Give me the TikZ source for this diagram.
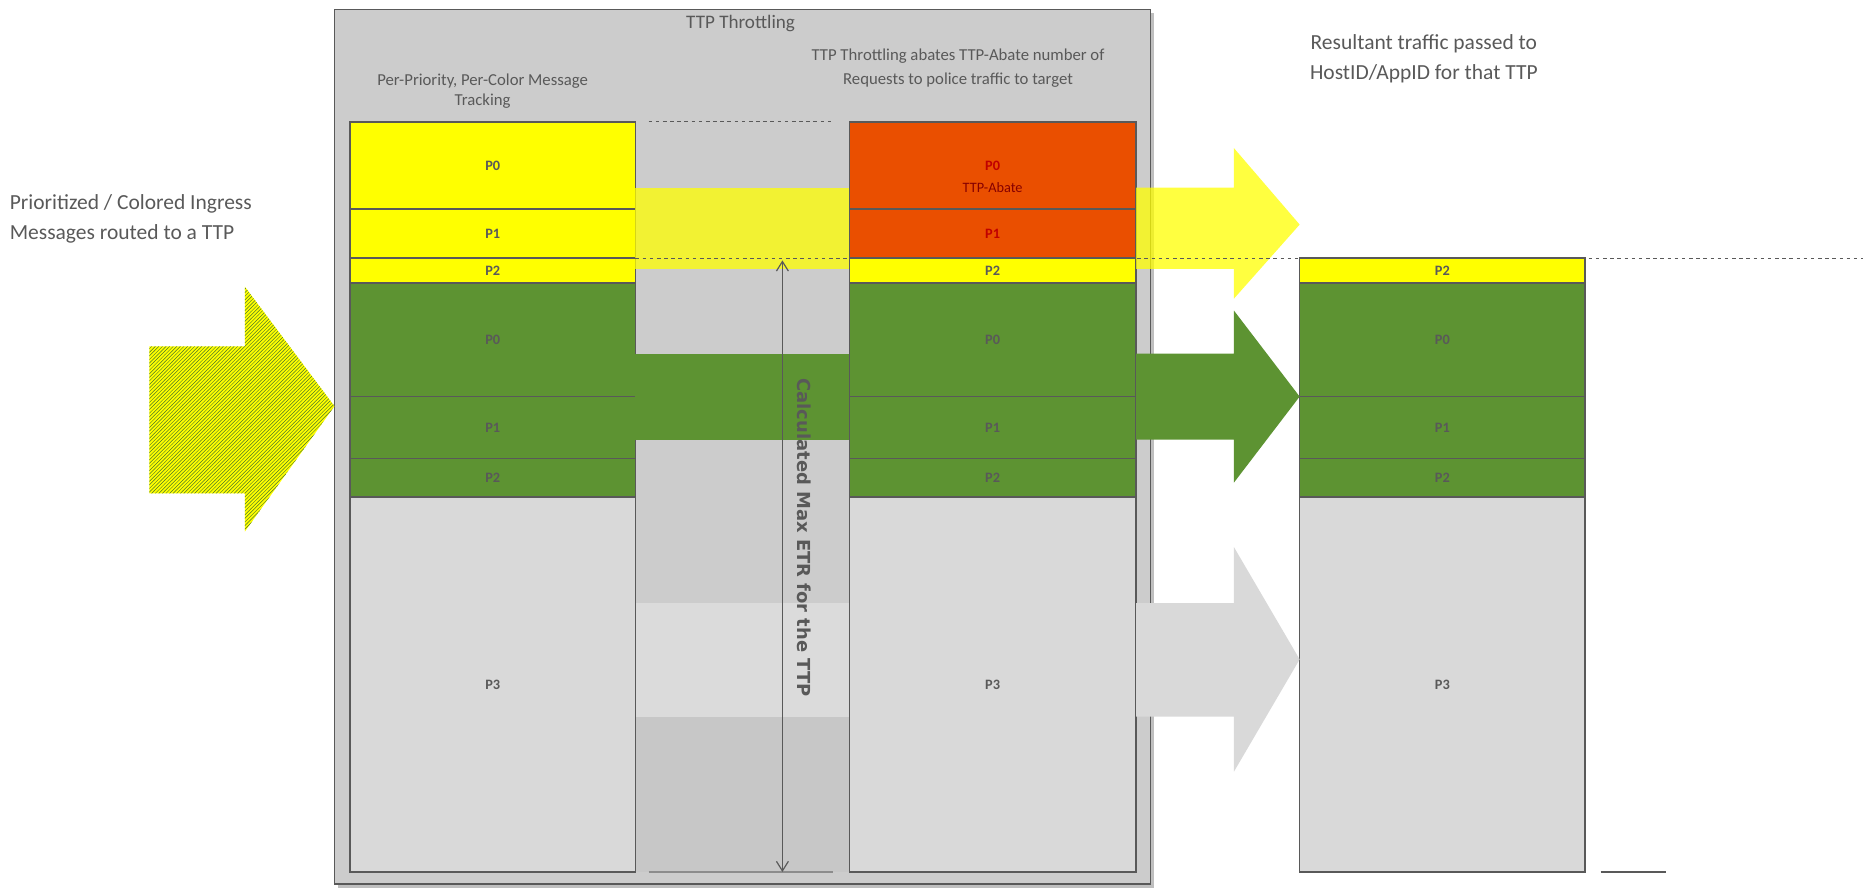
\documentclass[tikz,border=0pt]{standalone}
\usepackage{fontspec}
\setmainfont{Carlito}
\newfontfamily\dvs{DejaVu Sans}
\usetikzlibrary{patterns,arrows.meta}
\definecolor{txt}{HTML}{595959}
\definecolor{bx}{HTML}{CCCCCC}
\definecolor{lg}{HTML}{D9D9D9}
\definecolor{gr}{HTML}{5D9332}
\definecolor{yl}{HTML}{FFFF00}
\definecolor{orng}{HTML}{EA4F00}
\definecolor{rd}{HTML}{C00000}
\definecolor{edge}{HTML}{595959}
\newcommand{\mycell}[7]{\node[cell,fill=#6,minimum width={(#4-#2)*1pt},minimum height={(#5-#3)*1pt}] (#1) at ({(#2+#4)/2},{(#3+#5)/2}) {#7};}
\tikzset{cell/.style={draw=edge,line width=1.2pt,inner sep=0,outer sep=0,font=\fontsize{12}{12}\selectfont\bfseries,text=txt},
lbl/.style={text=txt,align=center,inner sep=0}}
\begin{document}
\begin{tikzpicture}[x=1pt,y=-1pt]
\useasboundingbox (0,0) rectangle (1568,750);
% outer box
\fill[black!25] (283,11) rectangle (966,743);
\node[draw=edge,fill=bx,line width=1pt,minimum width=683pt,minimum height=732pt,inner sep=0] (outer) at (621.5,374) {};
\node[lbl,font=\fontsize{16}{16}\selectfont] (title) at (620,20) {TTP Throttling};
\node[lbl,font=\fontsize{14}{17}\selectfont] (t1) at (404,76) {Per-Priority, Per-Color Message\\Tracking};
\node[lbl,font=\fontsize{14}{20}\selectfont] (t2) at (802,57) {TTP Throttling abates TTP-Abate number of\\Requests to police traffic to target};
\node[lbl,font=\fontsize{18}{25}\selectfont] (t3) at (1192,49) {Resultant traffic passed to\\HostID/AppID for that TTP};
\node[lbl,font=\fontsize{18}{25}\selectfont,anchor=west,align=left] (t4) at (8,183) {Prioritized / Colored Ingress\\Messages routed to a TTP};
% middle bands
\fill[black!14] (532,505) rectangle (711,600);
\fill[black!22] (532,600) rectangle (711,730);
\draw[edge,dashed,line width=1pt] (543,102) -- (697,102);
\draw[black!45,line width=2pt] (543,730) -- (697,730);
% column 1
\mycell{aP0}{293}{102}{532}{175}{yl}{P0}
\mycell{aP1}{293}{175}{532}{216}{yl}{P1}
\mycell{aP2}{293}{216}{532}{237}{yl}{P2}
\mycell{aG0}{293}{237}{532}{332}{gr}{P0}
\mycell{aG1}{293}{332}{532}{384}{gr}{P1}
\mycell{aG2}{293}{384}{532}{416}{gr}{P2}
\mycell{aP3}{293}{416}{532}{730}{lg}{P3}
% column 2
\mycell{bP0}{711}{102}{951}{175}{orng}{}
\node[text=rd,font=\fontsize{12}{12}\selectfont\bfseries] (bP0t) at (831,139) {P0};
\node[text=rd!70!black,font=\fontsize{12}{12}\selectfont] (abate) at (831,157) {TTP-Abate};
\mycell{bP1}{711}{175}{951}{216}{orng}{\textcolor{rd}{P1}}
\mycell{bP2}{711}{216}{951}{237}{yl}{P2}
\mycell{bG0}{711}{237}{951}{332}{gr}{P0}
\mycell{bG1}{711}{332}{951}{384}{gr}{P1}
\mycell{bG2}{711}{384}{951}{416}{gr}{P2}
\mycell{bP3}{711}{416}{951}{730}{lg}{P3}
% column 3
\mycell{cP2}{1088}{216}{1327}{237}{yl}{P2}
\mycell{cG0}{1088}{237}{1327}{332}{gr}{P0}
\mycell{cG1}{1088}{332}{1327}{384}{gr}{P1}
\mycell{cG2}{1088}{384}{1327}{416}{gr}{P2}
\mycell{cP3}{1088}{416}{1327}{730}{lg}{P3}
\draw[edge,line width=1.2pt] (1340,730) -- (1395,730);
% flows
\fill[yl,opacity=0.75] (532,157) rectangle (711,225);
\fill[yl,opacity=0.75] (951,157) -- (1033,157) -- (1033,124) -- (1088,188) -- (1033,250) -- (1033,225) -- (951,225) -- cycle;
\fill[gr] (532,296) rectangle (711,368);
\fill[gr] (951,296) -- (1033,296) -- (1033,260) -- (1088,332) -- (1033,404) -- (1033,368) -- (951,368) -- cycle;
\fill[lg] (951,505) -- (1033,505) -- (1033,458) -- (1088,552) -- (1033,646) -- (1033,600) -- (951,600) -- cycle;
% ingress arrow
\fill[yl] (125,290) -- (205,290) -- (205,240) -- (280,340) -- (205,445) -- (205,413) -- (125,413) -- cycle;
\fill[pattern=north east lines,pattern color=gr!80!black] (125,290) -- (205,290) -- (205,240) -- (280,340) -- (205,445) -- (205,413) -- (125,413) -- cycle;
% reference line
\coordinate (r1) at (532,216);
\coordinate (r2) at (1560,216);
\draw[edge,dashed,line width=0.8pt] (r1) -- (r2);
\coordinate (v1) at (655,218);
\coordinate (v2) at (655,730);
\draw[edge,line width=1pt,{Straight Barb[length=8pt,width=10pt]}-{Straight Barb[length=8pt,width=10pt]}] (v1) -- (v2);
\node[text=txt,rotate=-90,font=\dvs\fontsize{15}{15}\selectfont\bfseries] (etr) at (673,450) {Calculated Max ETR for the TTP};
\end{tikzpicture}
\end{document}
